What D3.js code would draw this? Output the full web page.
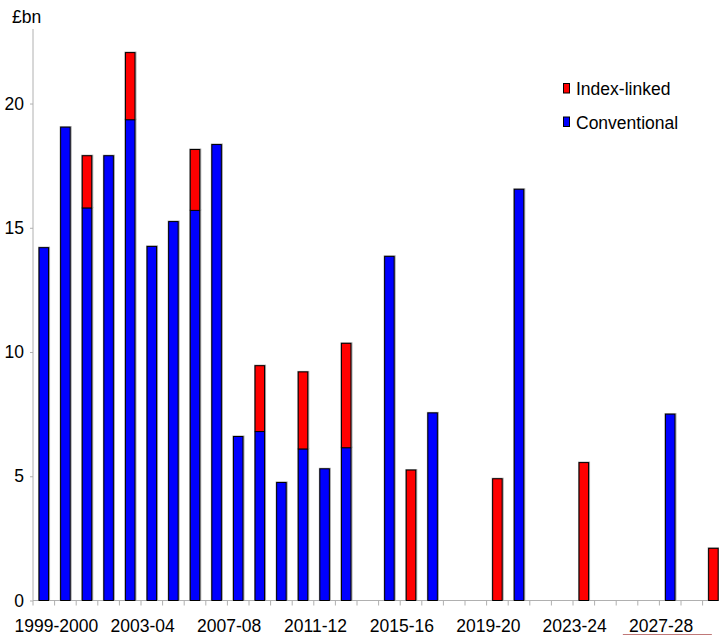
<!DOCTYPE html>
<html>
<head>
<meta charset="utf-8">
<script src="https://cdn.jsdelivr.net/npm/d3@7"></script>
<style>
  html, body { margin: 0; padding: 0; background: #fff; }
  svg { display: block; }
  text { font-family: "Liberation Sans", Arial, sans-serif; fill: #000; }
</style>
</head>
<body>
<svg id="chart" width="719" height="637"></svg>
<script>
// Gilt redemptions by financial year, £bn
const years = [
  "1999-2000", "2000-01", "2001-02", "2002-03", "2003-04", "2004-05", "2005-06", "2006-07",
  "2007-08", "2008-09", "2009-10", "2010-11", "2011-12", "2012-13", "2013-14", "2014-15",
  "2015-16", "2016-17", "2017-18", "2018-19", "2019-20", "2020-21", "2021-22", "2022-23",
  "2023-24", "2024-25", "2025-26", "2026-27", "2027-28", "2028-29", "2029-30", "2030-31"
];
const conventional = [
  14.2, 19.05, 15.8, 17.9, 19.35, 14.25, 15.25, 15.7,
  18.35, 6.6, 6.8, 4.75, 6.1, 5.3, 6.15, 0,
  13.85, 0, 7.55, 0, 0, 0, 16.55, 0,
  0, 0, 0, 0, 0, 7.5, 0, 0
];
const indexLinked = [
  0, 0, 2.1, 0, 2.7, 0, 0, 2.45,
  0, 0, 2.65, 0, 3.1, 0, 4.2, 0,
  0, 5.25, 0, 0, 0, 4.9, 0, 0,
  0, 5.55, 0, 0, 0, 0, 0, 2.1
];
const yTicks = [0, 5, 10, 15, 20];
const xLabelYears = ["1999-2000", "2003-04", "2007-08", "2011-12", "2015-16", "2019-20", "2023-24", "2027-28"];
const seriesNames = ["Conventional", "Index-linked"];
const seriesColors = { "Conventional": "#0000ff", "Index-linked": "#ff0000" };
const legendOrder = ["Index-linked", "Conventional"];

const svg = d3.select("#chart");
const plotLeft = 33, plotBottom = 600.5, plotTop = 29, step = 21.6;
const fontSize = 17.5;

const x = d3.scaleBand()
  .domain(years)
  .range([plotLeft, plotLeft + step * years.length])
  .paddingInner(0.56)
  .paddingOuter(0.28);

const y = d3.scaleLinear().domain([0, 23]).range([plotBottom, plotTop]);

const rows = years.map((yr, i) => ({
  year: yr,
  "Conventional": conventional[i],
  "Index-linked": indexLinked[i]
}));
const stacked = d3.stack().keys(seriesNames)(rows);

// axes
const yAxis = d3.axisLeft(y).tickValues(yTicks).tickSize(3).tickPadding(6).tickFormat(d3.format("d"));
const gy = svg.append("g").attr("transform", `translate(${plotLeft},0)`).call(yAxis);
gy.select(".domain").attr("stroke", "#b0b0b0").attr("d", `M0,${plotBottom}V${plotTop}`);
gy.selectAll(".tick line").attr("stroke", "#b0b0b0");
gy.selectAll(".tick text").attr("font-size", fontSize).attr("fill", "#000")
  .attr("font-family", "'Liberation Sans', Arial, sans-serif");

const gx = svg.append("g").attr("transform", `translate(0,${plotBottom})`);
gx.append("line")
  .attr("x1", plotLeft).attr("x2", 719)
  .attr("stroke", "#b0b0b0");
gx.selectAll("line.tick")
  .data(years)
  .join("line")
  .attr("class", "tick")
  .attr("x1", d => x(d) - x.step() * x.paddingInner() / 2)
  .attr("x2", d => x(d) - x.step() * x.paddingInner() / 2)
  .attr("y1", 0).attr("y2", 5)
  .attr("stroke", "#b0b0b0");
gx.selectAll("text")
  .data(xLabelYears)
  .join("text")
  .attr("x", d => x(d) + x.bandwidth() / 2 + x.step() * 0.58)
  .attr("y", 31)
  .attr("text-anchor", "middle")
  .attr("font-size", fontSize)
  .text(d => d);

// faint underline beneath the last period label
const lastLabel = xLabelYears[xLabelYears.length - 1];
svg.append("line")
  .attr("x1", x(lastLabel) - 21).attr("x2", x(lastLabel) + 68)
  .attr("y1", 634.5).attr("y2", 634.5)
  .attr("stroke", "#c07878").attr("stroke-width", 1.2);

svg.append("text")
  .attr("x", 12).attr("y", 23)
  .attr("font-size", fontSize)
  .text("£bn");

// stacked bars
const layers = svg.append("g").selectAll("g")
  .data(stacked)
  .join("g")
  .attr("fill", d => seriesColors[d.key]);

layers.selectAll("rect.halo")
  .data(d => d.filter(s => s[1] - s[0] > 0))
  .join("rect")
  .attr("class", "halo")
  .attr("x", d => x(d.data.year) - 1)
  .attr("y", d => y(d[1]) - 1)
  .attr("width", x.bandwidth() + 2.5)
  .attr("height", d => y(d[0]) - y(d[1]) + 1)
  .attr("fill", "#a0a0a0");

layers.selectAll("rect.bar")
  .data(d => d.filter(s => s[1] - s[0] > 0))
  .join("rect")
  .attr("class", "bar")
  .attr("x", d => x(d.data.year))
  .attr("y", d => y(d[1]))
  .attr("width", x.bandwidth())
  .attr("height", d => y(d[0]) - y(d[1]))
  .attr("stroke", "#000")
  .attr("stroke-width", 1);

// legend
const legend = svg.append("g").attr("transform", "translate(563,83)");
const item = legend.selectAll("g")
  .data(legendOrder)
  .join("g")
  .attr("transform", (d, i) => `translate(0,${i * 33.5})`);
item.append("rect")
  .attr("x", 0.5).attr("y", 0.5)
  .attr("width", 6).attr("height", 9.5)
  .attr("fill", d => seriesColors[d])
  .attr("stroke", "#000");
item.append("text")
  .attr("x", 13).attr("y", 12)
  .attr("font-size", fontSize)
  .text(d => d);
</script>
</body>
</html>
